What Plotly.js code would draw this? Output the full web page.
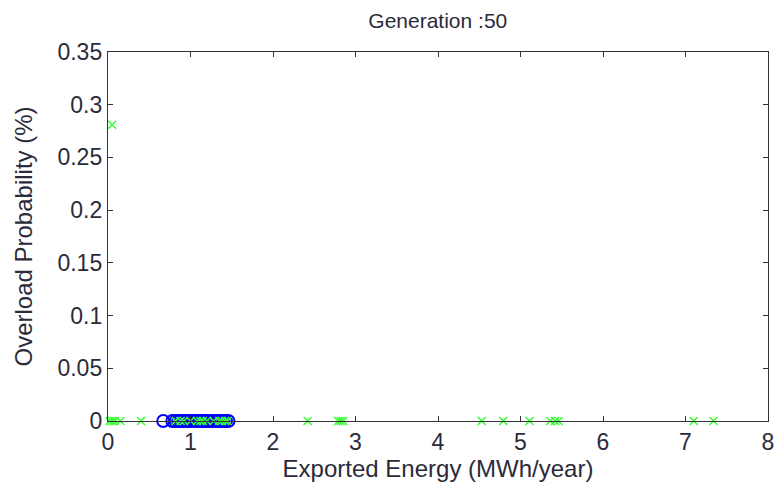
<!DOCTYPE html>
<html><head><meta charset="utf-8">
<script src="https://cdn.plot.ly/plotly-3.0.1.min.js"></script>
<style>html,body{margin:0;padding:0;background:#fff;}#chart{width:779px;height:493px;}</style>
</head><body><div id="chart"></div>
<script>
// Population (green x)
const popX = [0.02, 0.05, 0.08, 0.15, 0.40, 0.82, 0.88, 0.92, 1.00, 1.08, 1.12, 1.15, 1.20, 1.28, 1.35, 1.38, 1.42, 1.45, 2.42, 2.79, 2.82, 2.85, 4.53, 4.79, 5.11, 5.36, 5.42, 5.46, 7.10, 7.34, 0.05];
const popY = [0, 0, 0, 0, 0, 0, 0, 0, 0, 0, 0, 0, 0, 0, 0, 0, 0, 0, 0, 0, 0, 0, 0, 0, 0, 0, 0, 0, 0, 0, 0.281];
// Pareto front (blue o)
const frontX = [0.67, 0.78, 0.82, 0.85, 0.88, 0.91, 0.94, 0.97, 1.00, 1.04, 1.07, 1.10, 1.12, 1.14, 1.16, 1.18, 1.20, 1.23, 1.27, 1.31, 1.34, 1.37, 1.40, 1.43, 1.46];
const frontY = frontX.map(() => 0);
const xTicks = [0,1,2,3,4,5,6,7,8];
const yTicks = [0,0.05,0.1,0.15,0.2,0.25,0.3,0.35];
const yTickText = ['0','0.05','0.1','0.15','0.2','0.25','0.3','0.35'];

const font = {family: 'Liberation Sans, Arial, sans-serif', color: '#2b2b3a'};
const traces = [
  {x: frontX, y: frontY, type: 'scatter', mode: 'markers', cliponaxis: false,
   marker: {symbol: 'circle-open', size: 12, color: '#0000ff', line: {width: 2, color: '#0000ff'}}},
  {x: popX, y: popY, type: 'scatter', mode: 'markers', cliponaxis: false,
   marker: {symbol: 'x-thin-open', size: 8, color: '#33ff33', line: {width: 1.5, color: '#33ff33'}}}
];
const axisCommon = {showgrid: false, zeroline: false, showline: true, linecolor: '#333', linewidth: 1.2,
  mirror: 'allticks', ticks: 'inside', ticklen: 5, tickcolor: '#333', tickfont: Object.assign({size: 23}, font)};
const layout = {
  width: 779, height: 493, paper_bgcolor: '#fff', plot_bgcolor: '#fff', showlegend: false,
  margin: {l: 108, r: 11, t: 52, b: 72},
  title: {text: 'Generation :50', font: Object.assign({size: 21}, font), x: 0.562, xanchor: 'center', y: 0.958, yanchor: 'middle'},
  xaxis: Object.assign({}, axisCommon, {range: [0, 8], tickvals: xTicks, ticktext: xTicks.map(String),
    title: {text: 'Exported Energy (MWh/year)', font: Object.assign({size: 24}, font), standoff: 3}}),
  yaxis: Object.assign({}, axisCommon, {range: [0, 0.35], tickvals: yTicks, ticktext: yTickText,
    title: {text: 'Overload Probability (%)', font: Object.assign({size: 24}, font), standoff: 18}})
};
Plotly.newPlot('chart', traces, layout, {displayModeBar: false, staticPlot: true});
</script></body></html>
